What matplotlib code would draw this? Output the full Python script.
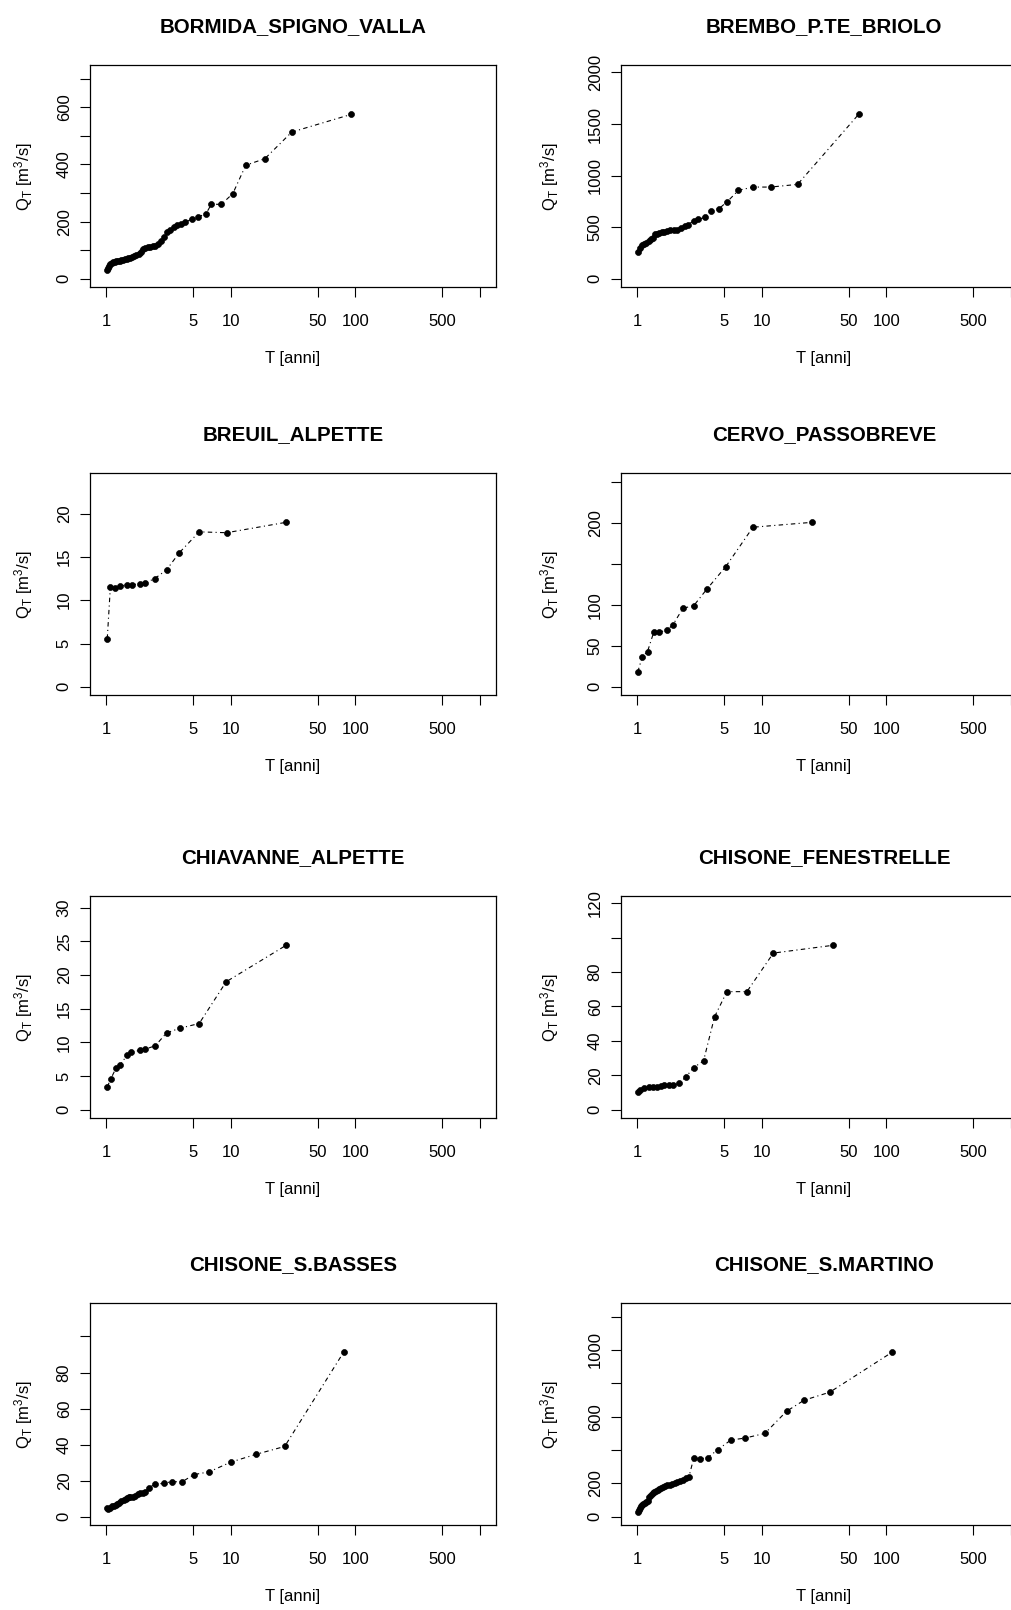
import matplotlib
matplotlib.use('Agg')
import matplotlib.pyplot as plt
from matplotlib.ticker import FixedLocator, FixedFormatter, NullLocator

plt.rcParams['font.family'] = ['Liberation Sans', 'DejaVu Sans']
plt.rcParams['mathtext.fontset'] = 'custom'
plt.rcParams['mathtext.rm'] = 'Liberation Sans'
plt.rcParams['mathtext.it'] = 'Liberation Sans:italic'

# ---------------- data ----------------
titles = ['BORMIDA_SPIGNO_VALLA', 'BREMBO_P.TE_BRIOLO',
          'BREUIL_ALPETTE', 'CERVO_PASSOBREVE',
          'CHIAVANNE_ALPETTE', 'CHISONE_FENESTRELLE',
          'CHISONE_S.BASSES', 'CHISONE_S.MARTINO']

T_bormida = [1.01, 1.03, 1.05, 1.08, 1.11, 1.14, 1.17, 1.20, 1.24, 1.28, 1.32, 1.36,
             1.41, 1.46, 1.51, 1.56, 1.62, 1.68, 1.75, 1.82, 1.90, 1.98, 2.06, 2.15,
             2.25, 2.36, 2.48, 2.62, 2.76, 2.90, 3.05, 3.25, 3.48, 3.72, 3.98, 4.3,
             4.9, 5.45, 6.3, 7.0, 8.4, 10.4, 13.2, 18.8, 30.9, 93]
Q_bormida = [32, 38, 45, 50, 55, 58, 60, 61, 62, 63, 65, 66, 68, 70, 72, 74, 77, 80,
             83, 86, 92, 105, 109, 110, 112, 114, 116, 120, 132, 145, 165, 172, 180,
             188, 193, 198, 209, 217, 226, 261, 260, 298, 397, 420, 513, 575]

T_brembo = [1.02, 1.06, 1.10, 1.14, 1.18, 1.24, 1.29, 1.33, 1.38, 1.44, 1.50, 1.57,
            1.65, 1.75, 1.85, 1.97, 2.1, 2.25, 2.4, 2.55, 2.84, 3.1, 3.48, 3.95, 4.55,
            5.3, 6.5, 8.5, 11.8, 19.4, 60]
Q_brembo = [255, 300, 330, 340, 350, 368, 385, 400, 430, 438, 443, 450, 455, 462, 470,
            472, 475, 490, 515, 525, 560, 576, 595, 656, 681, 749, 857, 889, 889, 915,
            1594]

T_breuil = [1.02, 1.08, 1.18, 1.28, 1.47, 1.61, 1.86, 2.06, 2.45, 3.05, 3.87, 5.58,
            9.27, 27.8]
Q_breuil = [5.55, 11.5, 11.4, 11.6, 11.8, 11.8, 11.9, 12.0, 12.5, 13.5, 15.5, 17.9,
            17.8, 19.0]

T_cervo = [1.01, 1.10, 1.21, 1.36, 1.50, 1.73, 1.94, 2.33, 2.84, 3.61, 5.15, 8.5, 25.3]
Q_cervo = [18, 37, 43, 67, 67, 69, 76, 96, 99, 119, 147, 195, 201]

T_chiavanne = [1.02, 1.09, 1.20, 1.30, 1.47, 1.59, 1.86, 2.06, 2.48, 3.05, 3.9, 5.58,
               9.2, 27.8]
Q_chiavanne = [3.4, 4.6, 6.2, 6.7, 8.1, 8.6, 8.8, 9.0, 9.5, 11.4, 12.1, 12.8, 19.0, 24.4]

T_fenestrelle = [1.01, 1.06, 1.13, 1.24, 1.34, 1.45, 1.55, 1.63, 1.79, 1.94, 2.18,
                 2.47, 2.84, 3.41, 4.18, 5.25, 7.6, 12.4, 37.2]
Q_fenestrelle = [10.5, 11.5, 12.5, 13.4, 13.2, 13.4, 13.8, 14.4, 14.4, 14.4, 15.3,
                 19.2, 24.5, 28.4, 54, 68.6, 68.6, 91, 95.5]

T_sbasses = [1.01, 1.04, 1.08, 1.11, 1.15, 1.19, 1.22, 1.27, 1.32, 1.38, 1.43, 1.47,
             1.52, 1.56, 1.64, 1.71, 1.80, 1.88, 1.97, 2.06, 2.19, 2.48, 2.9, 3.39,
             4.05, 5.06, 6.7, 10.0, 15.9, 27.1, 80.5]
Q_sbasses = [4.6, 4.5, 4.8, 5.7, 6.0, 6.4, 7.0, 7.5, 8.5, 9.2, 10.0, 10.6, 10.8, 11.2,
             11.0, 11.6, 12.5, 13.0, 13.4, 14.0, 16.2, 18.0, 18.6, 19.5, 19.3, 23.4,
             24.9, 30.3, 34.6, 39.0, 91.2]

T_smartino = [1.01, 1.03, 1.05, 1.07, 1.09, 1.12, 1.15, 1.18, 1.21, 1.25, 1.29, 1.33,
              1.37, 1.41, 1.46, 1.51, 1.56, 1.62, 1.68, 1.75, 1.83, 1.91, 2.0, 2.1,
              2.2, 2.32, 2.45, 2.6, 2.84, 3.17, 3.7, 4.42, 5.65, 7.35, 10.6, 15.85,
              21.9, 35.2, 111]
Q_smartino = [26, 40, 52, 62, 72, 78, 85, 90, 95, 120, 130, 140, 148, 152, 158, 165,
              172, 180, 185, 188, 192, 198, 205, 210, 212, 220, 230, 238, 350, 347, 355,
              402, 460, 472, 500, 633, 699, 747, 986]

x_ticks = [1, 5, 10, 50, 100, 500, 1000]
x_tick_labels = ['1', '5', '10', '50', '100', '500', '']

y_ticks = [
    [0, 100, 200, 300, 400, 500, 600, 700],
    [0, 500, 1000, 1500, 2000],
    [0, 5, 10, 15, 20],
    [0, 50, 100, 150, 200, 250],
    [0, 5, 10, 15, 20, 25, 30],
    [0, 20, 40, 60, 80, 100, 120],
    [0, 20, 40, 60, 80, 100],
    [0, 200, 400, 600, 800, 1000, 1200],
]
y_tick_labels = [
    ['0', '', '200', '', '400', '', '600', ''],
    ['0', '500', '1000', '1500', '2000'],
    ['0', '5', '10', '15', '20'],
    ['0', '50', '100', '', '200', ''],
    ['0', '5', '10', '15', '20', '25', '30'],
    ['0', '20', '40', '60', '80', '', '120'],
    ['0', '20', '40', '60', '80', ''],
    ['0', '200', '', '600', '', '1000', ''],
]

series = [(T_bormida, Q_bormida), (T_brembo, Q_brembo),
          (T_breuil, Q_breuil), (T_cervo, Q_cervo),
          (T_chiavanne, Q_chiavanne), (T_fenestrelle, Q_fenestrelle),
          (T_sbasses, Q_sbasses), (T_smartino, Q_smartino)]

# ---------------- layout ----------------
W, H = 1011, 1610
fig = plt.figure(figsize=(W / 100, H / 100), dpi=100)
fig.patch.set_facecolor('white')

col_left = [90, 621]
ylabel_off = [-55, -60]
row_top = [65, 473, 896, 1303]
ax_w, ax_h = 406, 222

for k, (title, (T, Q)) in enumerate(zip(titles, series)):
    r, c = divmod(k, 2)
    x0 = col_left[c]
    y0 = row_top[r]
    ax = fig.add_axes([x0 / W, 1 - (y0 + ax_h) / H, ax_w / W, ax_h / H])
    ax.plot(T, Q, color='black', lw=0.8, linestyle=(0, (4, 3, 1, 3)),
            marker='o', markersize=4.3, markerfacecolor='black',
            markeredgecolor='black', markeredgewidth=0.5)
    ax.set_xscale('log')
    ax.set_xlim(10 ** -0.13, 10 ** 3.13)
    ymax = 1.25 * max(Q)
    ax.set_ylim(-0.04 * ymax, 1.04 * ymax)

    ax.xaxis.set_major_locator(FixedLocator(x_ticks))
    ax.xaxis.set_major_formatter(FixedFormatter(x_tick_labels))
    ax.xaxis.set_minor_locator(NullLocator())
    ax.yaxis.set_major_locator(FixedLocator(y_ticks[k]))
    ax.yaxis.set_major_formatter(FixedFormatter(y_tick_labels[k]))
    ax.yaxis.set_minor_locator(NullLocator())

    ax.tick_params(axis='both', direction='out', length=7.2, width=0.8,
                   labelsize=12, colors='black')
    ax.tick_params(axis='x', pad=12)
    ax.tick_params(axis='y', pad=6, labelrotation=90)
    for lab in ax.get_yticklabels():
        lab.set_verticalalignment('center')
        lab.set_horizontalalignment('right')

    for sp in ax.spines.values():
        sp.set_linewidth(0.9)
        sp.set_color('black')

    ax.set_xlabel('T [anni]', fontsize=12)
    ax.xaxis.set_label_coords(0.5, -64 / ax_h)
    ax.set_ylabel(r'Q$_{\mathrm{T}}$ [m$^{\mathrm{3}}$/s]', fontsize=12)
    ax.yaxis.set_label_coords(ylabel_off[c] / ax_w, 0.5)

    ax.text(0.5, 1 + 33 / ax_h, title, transform=ax.transAxes,
            ha='center', va='baseline', fontsize=14.8, fontweight='bold')

fig.savefig('out.png', dpi=100)
